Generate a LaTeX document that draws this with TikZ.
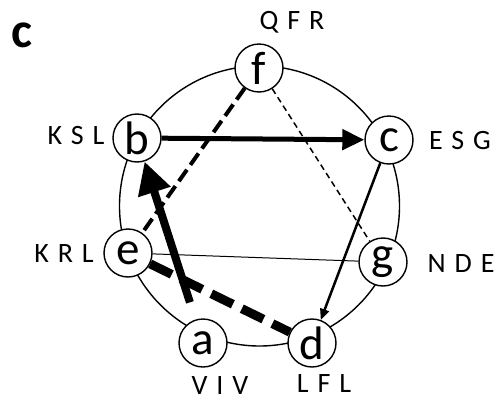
\documentclass[tikz,border=0pt]{standalone}
\usepackage{fontspec}
\setmainfont{Carlito}
\newfontfamily\lblfont[LetterSpace=32]{Carlito}
\usetikzlibrary{arrows.meta}
\begin{document}
\begin{tikzpicture}[x=1pt,y=-1pt,
  vtx/.style={circle,draw,line width=1.4pt,fill=white,minimum size=48pt,inner sep=0pt,font=\fontsize{47}{47}\selectfont},
  lbl/.style={font=\lblfont\fontsize{28}{28}\selectfont,inner sep=0pt}]
\useasboundingbox (0,0) rectangle (504,402);
\draw[line width=1.4pt] (259.5,206) circle[radius=140pt];
\node[vtx] (f) at (259,68) {f};
\node[vtx] (b) at (137,138) {b};
\node[vtx] (c) at (389,140) {c};
\node[vtx] (e) at (128,253) {e};
\node[vtx] (g) at (383,262) {g};
\node[vtx] (a) at (203,343) {a};
\node[vtx] (d) at (312,343) {d};
\node[lbl] (lf) at (292,22) {QFR};
\node[lbl] (lb) at (76,136) {KSL};
\node[lbl] (lc) at (460,141) {ESG};
\node[lbl] (le) at (64,254) {KRL};
\node[lbl] (lg) at (461,264) {NDE};
\node[lbl] (la) at (220,386) {VIV};
\node[lbl] (ld) at (324,384) {LFL};
\node[font=\bfseries\fontsize{50}{50}\selectfont,inner sep=0pt] (title) at (22,35) {c};
\draw[line width=1pt] (e) -- (g);
\draw[line width=1.5pt,dash pattern=on 6pt off 4pt] (f) -- (g);
\draw[line width=4pt,dash pattern=on 14pt off 6pt] (f) -- (e);
\draw[line width=9pt,dash pattern=on 24pt off 10pt] (e) -- (d);
\draw[line width=2.5pt,-{Triangle[length=11pt,width=9pt]}] (c) -- (d);
\draw[line width=5pt,-{Triangle[length=22pt,width=20pt]}] (b) -- (c);
\draw[line width=8pt,shorten <=18pt,-{Triangle[length=32pt,width=32pt]}] (a) -- (b);
\end{tikzpicture}
\end{document}
